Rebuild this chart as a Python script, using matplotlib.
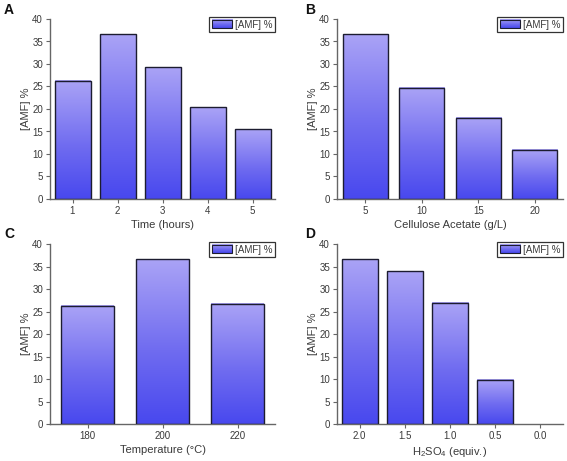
import numpy as np
import matplotlib
matplotlib.use("Agg")
import matplotlib.pyplot as plt
from matplotlib.colors import LinearSegmentedColormap
from matplotlib.legend_handler import HandlerBase
from matplotlib.image import BboxImage
from matplotlib.transforms import Bbox, TransformedBbox
from matplotlib.patches import Rectangle

plt.rcParams['font.family'] = ['Liberation Sans', 'DejaVu Sans']
plt.rcParams['mathtext.fontset'] = 'custom'
plt.rcParams['mathtext.rm'] = 'Liberation Sans'

# ---- data ----
time_labels = ["1", "2", "3", "4", "5"]
time_values = [26.3, 36.6, 29.3, 20.4, 15.5]

acetate_labels = ["5", "10", "15", "20"]
acetate_values = [36.6, 24.7, 18.1, 10.9]

temp_labels = ["180", "200", "220"]
temp_values = [26.3, 36.6, 26.7]

acid_labels = ["2.0", "1.5", "1.0", "0.5", "0.0"]
acid_values = [36.6, 33.9, 27.0, 9.8, 0.0]

series_name = "[AMF] %"
y_label = "[AMF] %"
y_ticks = [0, 5, 10, 15, 20, 25, 30, 35, 40]

panels = [
    ("A", time_labels, time_values, "Time (hours)", 0.8),
    ("B", acetate_labels, acetate_values, "Cellulose Acetate (g/L)", 0.8),
    ("C", temp_labels, temp_values, "Temperature (°C)", 0.7),
    ("D", acid_labels, acid_values, r"H$_\mathregular{2}$SO$_\mathregular{4}$ (equiv.)", 0.8),
]

cmap = LinearSegmentedColormap.from_list(
    "amf", [(0.0, (72/255, 72/255, 238/255)),
            (0.45, (112/255, 108/255, 240/255)),
            (1.0, (170/255, 163/255, 246/255))])
grad = np.linspace(0, 1, 256).reshape(-1, 1)

TXT = "#3a3a3a"
SPINE = "#666666"
EDGE = "#1c1c30"


class HandlerGradient(HandlerBase):
    def create_artists(self, legend, orig_handle, xdescent, ydescent,
                       width, height, fontsize, trans):
        bb = Bbox.from_bounds(-xdescent, -ydescent, width, height)
        img = BboxImage(TransformedBbox(bb, trans), cmap=cmap,
                        interpolation='bilinear', origin='lower')
        img.set_data(grad)
        rect = Rectangle((-xdescent, -ydescent), width, height,
                         facecolor='none', edgecolor=EDGE, lw=0.8,
                         transform=trans)
        return [img, rect]


fig = plt.figure(figsize=(5.67, 4.61), dpi=100)
W, H = 567.0, 461.0
boxes = [(50, 19, 275, 199), (337, 19, 563, 199),
         (50, 244, 275, 424), (337, 244, 563, 424)]
letter_pos = [(4, 3), (305, 3), (4, 227), (305, 227)]

for (letter, labels, vals, xlab, bw), (x0, y0, x1, y1), (lx, ly) in zip(panels, boxes, letter_pos):
    ax = fig.add_axes([x0 / W, 1 - y1 / H, (x1 - x0) / W, (y1 - y0) / H])
    xs = np.arange(len(labels))
    bars = ax.bar(xs, vals, width=bw, facecolor='none', edgecolor=EDGE,
                  linewidth=1.0, zorder=3)
    for b in bars:
        h = b.get_height()
        if h <= 0:
            b.set_linewidth(0)
            continue
        bx = b.get_x()
        ax.imshow(grad, cmap=cmap, origin='lower', aspect='auto',
                  extent=(bx, bx + b.get_width(), 0, h), zorder=2,
                  interpolation='bilinear')
    ax.set_xlim(-0.5, len(labels) - 0.5)
    ax.set_ylim(0, 40)
    ax.set_xticks(xs)
    ax.set_xticklabels(labels)
    ax.set_yticks(y_ticks)
    for s in ['top', 'right']:
        ax.spines[s].set_visible(False)
    for s in ['left', 'bottom']:
        ax.spines[s].set_color(SPINE)
        ax.spines[s].set_linewidth(1.0)
    ax.tick_params(axis='both', direction='out', length=3, width=0.8,
                   color=SPINE, labelsize=7, labelcolor=TXT, pad=2)
    ax.set_xlabel(xlab, fontsize=8, color=TXT, labelpad=3)
    ax.set_ylabel(y_label, fontsize=8, color=TXT, labelpad=1)
    proxy = Rectangle((0, 0), 1, 1)
    leg = ax.legend([proxy], [series_name], handler_map={Rectangle: HandlerGradient()},
                    loc='upper right', bbox_to_anchor=(1.0, 1.01),
                    borderaxespad=0, fancybox=False, framealpha=1,
                    fontsize=7, handlelength=2.1, handleheight=0.9,
                    handletextpad=0.3, borderpad=0.25)
    leg.get_frame().set_edgecolor("#333333")
    leg.get_frame().set_linewidth(0.9)
    for t in leg.get_texts():
        t.set_color(TXT)
    fig.text(lx / W, 1 - ly / H, letter, fontsize=10, fontweight='bold',
             ha='left', va='top', color='#111111')

fig.savefig("out.png", dpi=100)
